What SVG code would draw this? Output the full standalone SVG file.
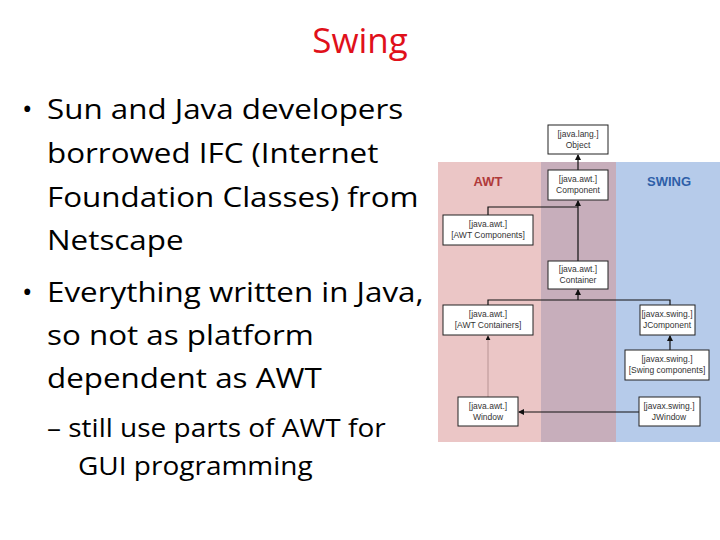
<svg xmlns="http://www.w3.org/2000/svg" width="720" height="540" viewBox="0 0 720 540">
<defs>
<style>
.t{font-family:"Open Sans",Lato,sans-serif;font-size:28px;fill:#000}
.b{fill:#fff;stroke:#222;stroke-width:1}
.n{font-family:"Liberation Sans",Arial,sans-serif;font-size:8.5px;fill:#333;text-anchor:middle}
.c{stroke:#111;stroke-width:1.2;fill:none}
</style>
<marker id="a" viewBox="0 0 6 6" refX="5" refY="3" markerWidth="5" markerHeight="5" orient="auto"><path d="M0,0L6,3L0,6z" fill="#111"/></marker>
</defs>
<rect width="720" height="540" fill="#fff"/>
<text x="360" y="53" font-family="Open Sans,sans-serif" font-size="35" fill="#e0101a" text-anchor="middle">Swing</text>
<g class="t">
<text x="22" y="119">•</text>
<text x="22" y="302">•</text>
</g>
<g class="t" transform="translate(47 0) scale(1.12 1)">
<text x="0" y="119">Sun and Java developers</text>
<text x="0" y="163">borrowed IFC (Internet</text>
<text x="0" y="207">Foundation Classes) from</text>
<text x="0" y="250">Netscape</text>
<text x="0" y="302">Everything written in Java,</text>
<text x="0" y="345">so not as platform</text>
<text x="0" y="388">dependent as AWT</text>
<text x="0" y="437" font-size="25">– still use parts of AWT for</text>
<text x="27.7" y="475" font-size="25">GUI programming</text>
</g>
<g id="bg">
<rect x="438" y="162" width="103" height="280" fill="#ebc6c6"/>
<rect x="541" y="162" width="75" height="280" fill="#c7aebb"/>
<rect x="616" y="162" width="104" height="280" fill="#b6cbea"/>
<text x="488" y="186" font-family="Liberation Sans,Arial,sans-serif" font-size="13" font-weight="bold" fill="#b03a3a" text-anchor="middle">AWT</text>
<text x="669" y="186" font-family="Liberation Sans,Arial,sans-serif" font-size="13" font-weight="bold" fill="#2e5fa8" text-anchor="middle">SWING</text>
</g>
<g id="connectors">
<path class="c" d="M578,170V155" marker-end="url(#a)"/>
<path class="c" d="M488,215V207H578M578,261V201" marker-end="url(#a)"/>
<path class="c" d="M488,305V300H670V305M578,300V290" marker-end="url(#a)"/>
<path d="M488,397V336" stroke="#b89494" stroke-width="1" marker-end="url(#a)"/>
<path class="c" d="M670,350V336" marker-end="url(#a)"/>
<path class="c" d="M639,412H519" marker-end="url(#a)"/>
</g>
<g id="object"><rect class="b" x="548" y="125" width="60" height="29"/><text class="n" x="578" y="137">[java.lang.]</text><text class="n" x="578" y="148">Object</text></g>
<g id="component"><rect class="b" x="548" y="170" width="60" height="30"/><text class="n" x="578" y="182">[java.awt.]</text><text class="n" x="578" y="193">Component</text></g>
<g id="awtcomponents"><rect class="b" x="443" y="215" width="90" height="30"/><text class="n" x="488" y="227">[java.awt.]</text><text class="n" x="488" y="238">[AWT Components]</text></g>
<g id="container"><rect class="b" x="548" y="261" width="60" height="28"/><text class="n" x="578" y="272">[java.awt.]</text><text class="n" x="578" y="283">Container</text></g>
<g id="awtcontainers"><rect class="b" x="443" y="305" width="90" height="30"/><text class="n" x="488" y="317">[java.awt.]</text><text class="n" x="488" y="328">[AWT Containers]</text></g>
<g id="jcomponent"><rect class="b" x="640" y="305" width="55" height="30"/><text class="n" x="667" y="317">[javax.swing.]</text><text class="n" x="667" y="328">JComponent</text></g>
<g id="swingcomponents"><rect class="b" x="625" y="350" width="84" height="30"/><text class="n" x="667" y="362">[javax.swing.]</text><text class="n" x="667" y="373">[Swing components]</text></g>
<g id="window"><rect class="b" x="458" y="397" width="60" height="29"/><text class="n" x="488" y="409">[java.awt.]</text><text class="n" x="488" y="420">Window</text></g>
<g id="jwindow"><rect class="b" x="639" y="397" width="61" height="29"/><text class="n" x="669" y="409">[javax.swing.]</text><text class="n" x="669" y="420">JWindow</text></g>
</svg>
